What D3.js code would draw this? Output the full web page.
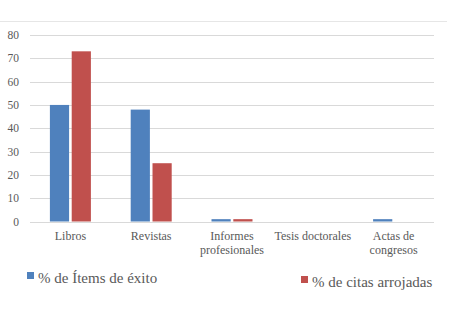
<!DOCTYPE html>
<html>
<head>
<meta charset="utf-8">
<script src="https://cdn.jsdelivr.net/npm/d3@7"></script>
<style>
  html, body { margin: 0; padding: 0; background: #fff; }
  svg { display: block; }
  text { font-family: "Liberation Serif", "DejaVu Serif", serif; fill: #595959; }
</style>
</head>
<body>
<svg id="chart" width="450" height="331"></svg>
<script>
// Categories and series
const categories = ["Libros", "Revistas", "Informes profesionales", "Tesis doctorales", "Actas de congresos"];
const categoryLines = [["Libros"], ["Revistas"], ["Informes", "profesionales"], ["Tesis doctorales"], ["Actas de", "congresos"]];
const seriesNames = ["% de Ítems de éxito", "% de citas arrojadas"];
const itemsExito = [50, 48, 1, 0, 1];
const citasArrojadas = [73, 25, 1, 0, 0];
const yTicks = [0, 10, 20, 30, 40, 50, 60, 70, 80];
const colors = ["#4F81BD", "#C0504D"];

const svg = d3.select("#chart");
const plot = { left: 30, right: 434, top: 35, bottom: 221.5 };

const x = d3.scaleBand().domain(categories).range([plot.left, plot.right]);
const xInner = d3.scaleBand().domain([0, 1]).range([0, 41]).paddingInner(0.12);
const y = d3.scaleLinear().domain([0, 80]).range([plot.bottom, plot.top]);

// top frame line
svg.append("line")
  .attr("x1", 0).attr("x2", 447).attr("y1", 21.5).attr("y2", 21.5)
  .attr("stroke", "#e6e6e6").attr("stroke-width", 1);

// gridlines
svg.append("g").selectAll("line").data(yTicks).join("line")
  .attr("x1", plot.left).attr("x2", plot.right)
  .attr("y1", d => Math.round(y(d)) + 0.5).attr("y2", d => Math.round(y(d)) + 0.5)
  .attr("stroke", "#d9d9d9").attr("stroke-width", 1);

// y axis labels
svg.append("g").selectAll("text").data(yTicks).join("text")
  .attr("x", 19).attr("y", d => y(d) + 4)
  .attr("text-anchor", "end")
  .attr("font-size", 11.5)
  .text(d => d);

// bars
const series = [itemsExito, citasArrojadas];
series.forEach((vals, si) => {
  svg.append("g").selectAll("rect").data(vals).join("rect")
    .attr("x", (d, i) => x(categories[i]) + (x.bandwidth() - 41) / 2 + xInner(si))
    .attr("width", xInner.bandwidth())
    .attr("y", d => y(d))
    .attr("height", d => y(0) - y(d))
    .attr("fill", colors[si]);
});

// category labels
const lab = svg.append("g").selectAll("text").data(categories).join("text")
  .attr("text-anchor", "middle")
  .attr("font-size", 12)
  .attr("x", d => x(d) + x.bandwidth() / 2)
  .attr("y", 240);
lab.each(function(d, i) {
  const t = d3.select(this);
  categoryLines[i].forEach((ln, k) => {
    t.append("tspan").attr("x", x(d) + x.bandwidth() / 2).attr("dy", k === 0 ? 0 : 13.5).text(ln);
  });
});

// legend
const legend = [
  { sx: 27, sy: 272, tx: 38, ty: 283 },
  { sx: 301, sy: 276, tx: 312, ty: 287 }
];
legend.forEach((p, i) => {
  svg.append("rect").attr("x", p.sx).attr("y", p.sy).attr("width", 7).attr("height", 7).attr("fill", colors[i]);
  svg.append("text").attr("x", p.tx).attr("y", p.ty).attr("font-size", 15).text(seriesNames[i]);
});
</script>
</body>
</html>
